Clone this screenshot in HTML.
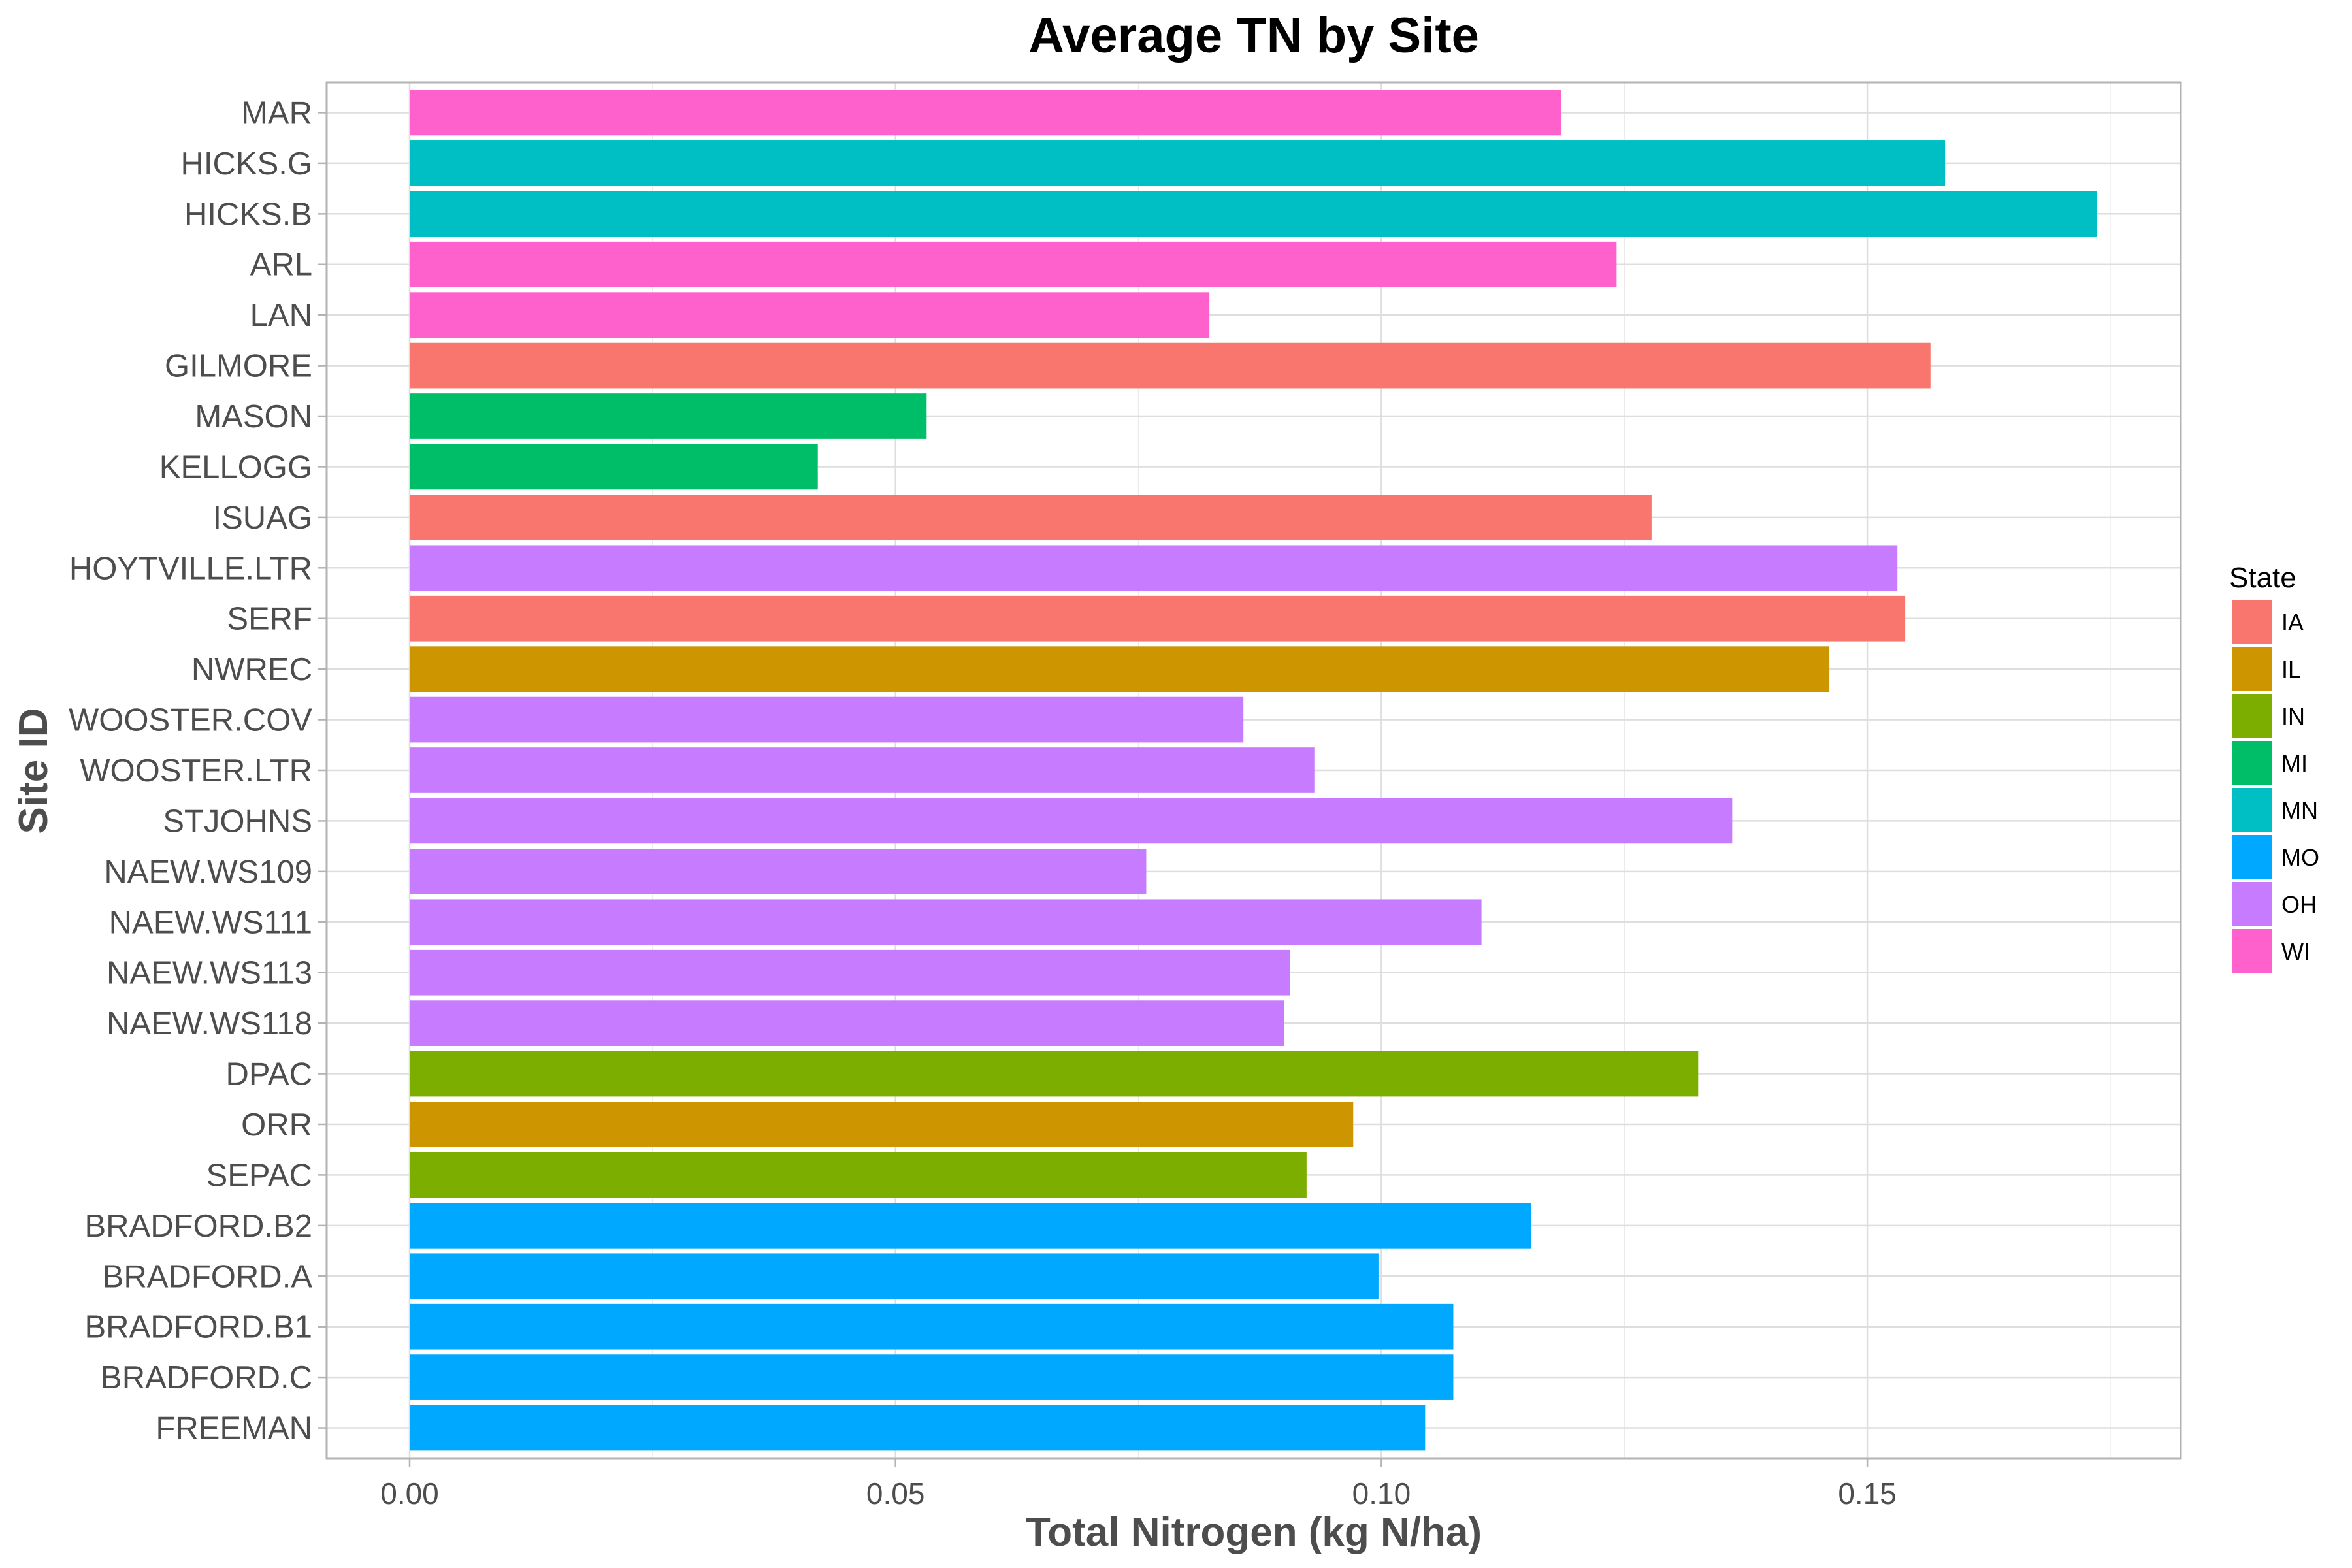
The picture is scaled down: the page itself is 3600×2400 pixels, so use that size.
<!DOCTYPE html>
<html><head><meta charset="utf-8"><style>html,body{margin:0;padding:0;background:#fff}svg{display:block}</style></head>
<body>
<svg id="chart" width="3600" height="2400" xmlns="http://www.w3.org/2000/svg" font-family="Liberation Sans, Arial, sans-serif">
<rect width="3600" height="2400" fill="#fff"/>
<text x="1919" y="80" text-anchor="middle" font-size="76" font-weight="bold" fill="#000">Average TN by Site</text>
<g id="plot"></g>
<text x="1919" y="2366" text-anchor="middle" font-size="62" font-weight="bold" fill="#4d4d4d">Total Nitrogen (kg N/ha)</text>
<text transform="translate(72,1180) rotate(-90)" text-anchor="middle" font-size="62" font-weight="bold" fill="#4d4d4d">Site ID</text>
<g id="legend"></g>
</svg>
<script>
const sites = ["MAR","HICKS.G","HICKS.B","ARL","LAN","GILMORE","MASON","KELLOGG","ISUAG","HOYTVILLE.LTR","SERF","NWREC","WOOSTER.COV","WOOSTER.LTR","STJOHNS","NAEW.WS109","NAEW.WS111","NAEW.WS113","NAEW.WS118","DPAC","ORR","SEPAC","BRADFORD.B2","BRADFORD.A","BRADFORD.B1","BRADFORD.C","FREEMAN"];
const values = [0.1185,0.1580,0.1736,0.1242,0.0823,0.1565,0.0532,0.0420,0.1278,0.1531,0.1539,0.1461,0.0858,0.0931,0.1361,0.0758,0.1103,0.0906,0.0900,0.1326,0.0971,0.0923,0.1154,0.0997,0.1074,0.1074,0.1045];
const siteStates = ["WI","MN","MN","WI","WI","IA","MI","MI","IA","OH","IA","IL","OH","OH","OH","OH","OH","OH","OH","IN","IL","IN","MO","MO","MO","MO","MO"];
const states = ["IA","IL","IN","MI","MN","MO","OH","WI"];
const stateColors = ["#F8766D","#CD9600","#7CAE00","#00BE67","#00BFC4","#00A9FF","#C77CFF","#FF61CC"];
const xTicks = [0,0.05,0.10,0.15];
const xTickLabels = ["0.00","0.05","0.10","0.15"];

const NS="http://www.w3.org/2000/svg";
const L=500,R=3338,T=126,B=2232;
const x0=627, perUnit=743.7/0.05;
const xs=v=>x0+v*perUnit;
const n=sites.length;
const step=(B-T)/(n+0.2);
const yc=i=>T+(0.6+i)*step;
function mk(tag,attrs,parent){const e=document.createElementNS(NS,tag);for(const k in attrs)e.setAttribute(k,attrs[k]);parent.appendChild(e);return e;}
const g=document.getElementById('plot');
const panel=mk('rect',{x:L,y:T,width:R-L,height:B-T,fill:'#fff'},g);


for(let v=-0.025;v<=0.2;v+=0.05){const X=xs(v);if(X<L||X>R)continue;const ln=mk('line',{x1:X,x2:X,y1:T,y2:B,stroke:'#ebebeb','stroke-width':1.5},g);

}
xTicks.forEach((v,i)=>{const X=xs(v);const ln=mk('line',{x1:X,x2:X,y1:T,y2:B,stroke:'#dedede','stroke-width':2.5},g);


const tk=mk('line',{x1:X,x2:X,y1:B,y2:B+13,stroke:'#b3b3b3','stroke-width':2.5},g);


const t=mk('text',{x:X,y:B+70,'text-anchor':'middle','font-size':46,fill:'#4d4d4d'},g);t.textContent=xTickLabels[i];

});
sites.forEach((s,i)=>{const Y=yc(i);
const ln=mk('line',{x1:L,x2:R,y1:Y,y2:Y,stroke:'#dedede','stroke-width':2.5},g);


const tk=mk('line',{x1:L-13,x2:L,y1:Y,y2:Y,stroke:'#b3b3b3','stroke-width':2.5},g);


const t=mk('text',{x:L-22,y:Y+17,'text-anchor':'end','font-size':49,fill:'#4d4d4d'},g);t.textContent=s;


const h=step*0.9;
const b=mk('rect',{x:xs(0),y:Y-h/2,width:xs(values[i])-xs(0),height:h,fill:stateColors[states.indexOf(siteStates[i])]},g);

});
const bd=mk('rect',{x:L,y:T,width:R-L,height:B-T,fill:'none',stroke:'#b3b3b3','stroke-width':3},g);


const lg=document.getElementById('legend');
const lt=mk('text',{x:3412,y:899,'font-size':44,fill:'#000'},lg);lt.textContent='State';


states.forEach((s,i)=>{const Y=918+i*72;
const r=mk('rect',{x:3416,y:Y,width:62,height:67,fill:stateColors[i]},lg);


const t=mk('text',{x:3492,y:Y+47,'font-size':36,fill:'#000'},lg);t.textContent=s;

});
</script>
</body></html>
